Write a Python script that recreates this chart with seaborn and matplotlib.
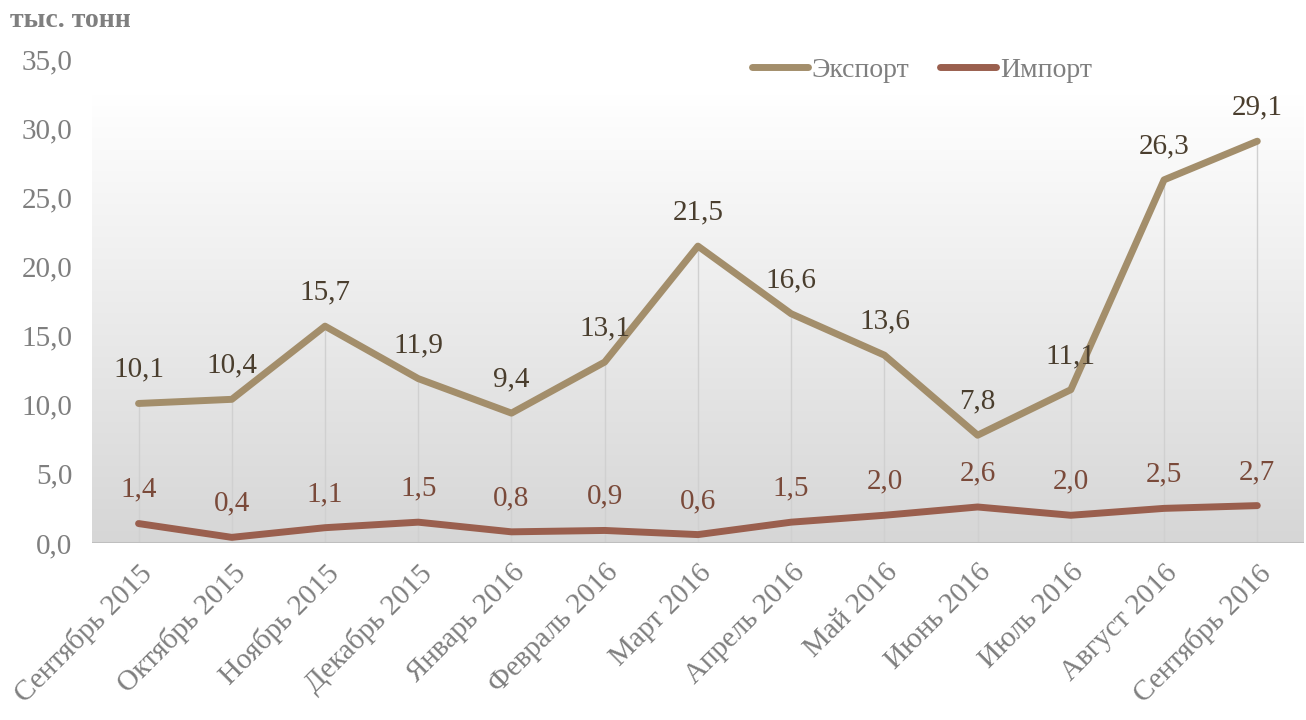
import numpy as np
import pandas as pd
import matplotlib.pyplot as plt
import seaborn as sns

months = ["Сентябрь 2015", "Октябрь 2015", "Ноябрь 2015", "Декабрь 2015",
          "Январь 2016", "Февраль 2016", "Март 2016", "Апрель 2016",
          "Май 2016", "Июнь 2016", "Июль 2016", "Август 2016", "Сентябрь 2016"]
export = [10.1, 10.4, 15.7, 11.9, 9.4, 13.1, 21.5, 16.6, 13.6, 7.8, 11.1, 26.3, 29.1]
imports = [1.4, 0.4, 1.1, 1.5, 0.8, 0.9, 0.6, 1.5, 2.0, 2.6, 2.0, 2.5, 2.7]
yticks = [0, 5, 10, 15, 20, 25, 30, 35]

df = pd.DataFrame({
    "x": list(range(len(months))) * 2,
    "value": export + imports,
    "series": ["Экспорт"] * len(months) + ["Импорт"] * len(months),
})

sns.set_style("white")
plt.rcParams["font.family"] = ["Liberation Serif", "DejaVu Serif"]

colors = {"Экспорт": "#A38E6B", "Импорт": "#9A5F4E"}
label_colors = {"Экспорт": "#4A3E2E", "Импорт": "#7A4A3A"}

fig = plt.figure(figsize=(13.06, 7.2), dpi=100)
ax = fig.add_axes([0.0704, 0.246, 0.928, 0.671])

# gradient background
grad = np.linspace(1, 0, 256).reshape(-1, 1)
ax.imshow(grad, cmap=plt.matplotlib.colors.LinearSegmentedColormap.from_list(
    "bg", ["#D6D6D6", "#FFFFFF"]), aspect="auto",
    extent=(-0.5, 12.5, 0, 32.5), zorder=0, vmin=0, vmax=1)

for i in range(len(months)):
    ax.axvline(i, ymin=0, ymax=export[i] / 35, color="#D0D0D0", lw=1, zorder=1)

sns.lineplot(data=df, x="x", y="value", hue="series", palette=colors,
             linewidth=5, ax=ax, zorder=3, solid_capstyle="round")

for name, vals in [("Экспорт", export), ("Импорт", imports)]:
    for i, v in enumerate(vals):
        ax.text(i, v + 1.5, f"{v:.1f}".replace(".", ","), ha="center", va="bottom",
                fontsize=21, color=label_colors[name], zorder=4)

ax.axhline(0, color="#BFBFBF", lw=1.5, zorder=2)
ax.set_xlim(-0.5, 12.5)
ax.set_ylim(0, 35)
ax.set_yticks(yticks)
ax.set_yticklabels([f"{t:.1f}".replace(".", ",") for t in yticks], fontsize=21, color="#7F7F7F")
ax.set_xticks(range(len(months)))
ax.set_xticklabels(months, rotation=45, ha="right", rotation_mode="anchor",
                   fontsize=21, color="#7F7F7F")
ax.tick_params(axis="y", length=0, pad=14)
ax.tick_params(axis="x", length=0, pad=12)
ax.set_xlabel("")
ax.set_ylabel("")
for s in ax.spines.values():
    s.set_visible(False)

leg = ax.legend(loc="upper right", bbox_to_anchor=(0.825, 1.005), ncol=2, frameon=False,
                fontsize=20, handlelength=2.0, handletextpad=0.15, columnspacing=1.1,
                borderpad=0, borderaxespad=0)
for t in leg.get_texts():
    t.set_color("#7F7F7F")

fig.text(0.008, 0.972, "тыс. тонн", fontsize=20, fontweight="bold", color="#7F7F7F",
         va="center", ha="left")

fig.savefig("out.png", dpi=100)
